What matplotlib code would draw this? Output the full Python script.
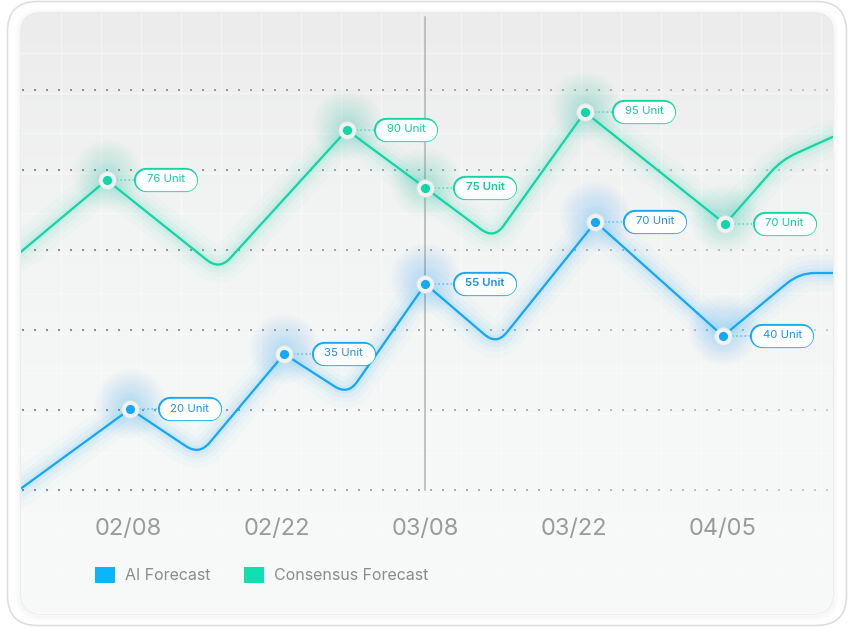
import numpy as np
import matplotlib
matplotlib.use('Agg')
import matplotlib.pyplot as plt
from matplotlib.patches import FancyBboxPatch, PathPatch, Patch
from matplotlib.path import Path
from matplotlib.transforms import Affine2D, ScaledTranslation
from matplotlib.lines import Line2D
from matplotlib.colors import LinearSegmentedColormap

plt.rcParams['font.family'] = ['Inter', 'DejaVu Sans']

# ---------------- data (x = days after 02/08/2025) ----------------
tick_days = [0, 14, 28, 42, 56]
tick_labels = ['02/08', '02/22', '03/08', '03/22', '04/05']

ai_days = [-10.0, 0.2, 6.7, 14.7, 20.7, 28.0, 34.7, 44.0, 56.0, 63.2, 66.4]
ai_vals = [0.5, 20.25, 8.75, 34.0, 23.75, 51.5, 36.25, 67.0, 38.5, 54.25, 54.25]
ai_labels = [None, '20 Unit', None, '35 Unit', None, '55 Unit', None, '70 Unit', '40 Unit', None, None]

cons_days = [-10.1, -2.0, 8.6, 20.6, 28.0, 34.45, 43.0, 56.2, 61.5, 66.3]
cons_vals = [59.5, 77.5, 55.0, 90.0, 75.5, 62.75, 94.5, 66.5, 82.5, 88.25]
cons_labels = [None, '76 Unit', None, '90 Unit', '75 Unit', None, '95 Unit', '70 Unit', None, None]

highlight_day = 28
grid_vals = [0, 20, 40, 60, 80, 100]
legend_names = ['AI Forecast', 'Consensus Forecast']

BLUE = '#16a8f3'
GREEN = '#12d6a6'
BLUE_TXT = '#1f8fe6'
GREEN_TXT = '#14c99b'

W, H = 854, 628
PT = 72 / 100  # points per pixel
fig = plt.figure(figsize=(W / 100, H / 100), dpi=100)
fig.patch.set_facecolor('white')

# ---------------- background card ----------------
bg = fig.add_axes([0, 0, 1, 1])
bg.set_xlim(0, W)
bg.set_ylim(H, 0)
bg.axis('off')

outer = FancyBboxPatch((7.5, 1.5), 839, 624, boxstyle='round,pad=0,rounding_size=30',
                       fc='#ffffff', ec='#dedede', lw=1.2, zorder=1)
bg.add_patch(outer)
for i, a in enumerate([0.05, 0.04, 0.03, 0.02]):
    e = 1 + i * 1.2
    bg.add_patch(FancyBboxPatch((21 - e, 13 - e + 1), 812 + 2 * e, 601 + 2 * e,
                                boxstyle='round,pad=0,rounding_size=%f' % (20 + e),
                                fc='none', ec='#888888', lw=1.2, alpha=a, zorder=2))
card = FancyBboxPatch((21, 13), 812, 601, boxstyle='round,pad=0,rounding_size=20',
                      fc='#f3f4f4', ec='#e2e2e2', lw=0.8, zorder=3)
bg.add_patch(card)
cmap = LinearSegmentedColormap.from_list('g', ['#ececec', '#f2f3f3', '#f6f7f7', '#f8f9f9'])
grad = np.linspace(0, 1, 256).reshape(-1, 1)
im = bg.imshow(grad, cmap=cmap, extent=(21, 833, 614, 13), aspect='auto', zorder=4,
               interpolation='bilinear')
im.set_clip_path(card)
for gx in range(61, 833, 40):
    l, = bg.plot([gx, gx], [13, 614], color='white', lw=1.0, alpha=0.4, zorder=5)
    l.set_clip_path(card)
for gy in range(53, 614, 40):
    l, = bg.plot([21, 833], [gy, gy], color='white', lw=1.0, alpha=0.4, zorder=5)
    l.set_clip_path(card)

# ---------------- main axes ----------------
px_per_day = 10.625
px_per_unit = 4.0
x0 = (21 - 128) / px_per_day
x1 = (833 - 128) / px_per_day
y0 = (490 - 614) / px_per_unit
y1 = (490 - 13) / px_per_unit
ax = fig.add_axes([21 / W, (H - 614) / H, 812 / W, 601 / H])
ax.set_xlim(x0, x1)
ax.set_ylim(y0, y1)
ax.axis('off')
ax.patch.set_alpha(0)

# dotted horizontal guides
step = 12 / px_per_day
xs_dots = np.arange(x0 + 2 / px_per_day, x1, step)
alphas = np.linspace(0.85, 0.35, len(xs_dots))
for gv in grid_vals:
    cols = [(0.47, 0.47, 0.47, a) for a in alphas]
    ax.scatter(xs_dots, np.full(len(xs_dots), gv), s=2.6, marker='s', c=cols,
               linewidths=0, zorder=2)

# highlighted vertical line
ax.plot([highlight_day, highlight_day], [0, y1 - 1], color='#b3b3b3', lw=1.1, zorder=2)


def rounded_path(xs, ys, labels):
    T = ax.transData
    P = T.transform(np.column_stack([xs, ys]))
    verts = [P[0]]
    codes = [Path.MOVETO]
    for i in range(1, len(P) - 1):
        r = 6.0 if labels[i] else 16.0
        a, v, b = P[i - 1], P[i], P[i + 1]
        d1 = np.linalg.norm(a - v)
        d2 = np.linalg.norm(b - v)
        t1 = min(r / d1, 0.45)
        t2 = min(r / d2, 0.45)
        p1 = v + (a - v) * t1
        p2 = v + (b - v) * t2
        verts += [p1, v, p2]
        codes += [Path.LINETO, Path.CURVE3, Path.CURVE3]
    verts.append(P[-1])
    codes.append(Path.LINETO)
    D = T.inverted().transform(np.array(verts))
    return Path(D, codes)


def draw_series(xs, ys, labels, color, txtcolor, conn_color):
    path = rounded_path(xs, ys, labels)
    for lw, a in [(26, 0.022), (18, 0.032), (12, 0.05), (6, 0.065)]:
        ax.add_patch(PathPatch(path, fill=False, ec=color, lw=lw, alpha=a,
                               capstyle='round', joinstyle='round', zorder=3))
    ax.add_patch(PathPatch(path, fill=False, ec=color, lw=1.65,
                           capstyle='round', joinstyle='round', zorder=4))
    for x, y, lab in zip(xs, ys, labels):
        if not lab:
            continue
        for dpx in np.linspace(14, 70, 14):
            ax.scatter([x], [y + 1.5], s=(dpx * PT) ** 2, color=color, alpha=0.016,
                       linewidths=0, zorder=3)
        ax.plot([x], [y], 'o', ms=12.5, mfc='#f1f2f2', mec='#e4e4e4', mew=0.6, zorder=7)
        ax.plot([x], [y], 'o', ms=6.6, mfc=color, mec='none', zorder=8)
        tr = Affine2D() + ScaledTranslation(x, y, ax.transData)
        off = 28
        ax.add_line(Line2D([9, off - 1], [0, 0], transform=tr, color=conn_color, lw=1.3,
                           ls=(0, (1, 1.3)), zorder=6, clip_on=False))
        # pill-shaped label box: coloured outline + white body
        xa, xb = off + 11.5, off + 63 - 11.5
        ax.add_line(Line2D([xa, xb], [0, 0], transform=tr, color=color, lw=24.2 * PT,
                           solid_capstyle='round', zorder=9, clip_on=False))
        ax.add_line(Line2D([xa, xb], [0, 0], transform=tr, color='white', lw=21.4 * PT,
                           solid_capstyle='round', zorder=9.5, clip_on=False))
        bold = abs(x - highlight_day) < 0.5
        ax.annotate(lab, xy=(x, y), xytext=(off + 31.5, 0.5), textcoords='offset pixels',
                    ha='center', va='center', fontsize=8.2, color=txtcolor,
                    fontweight='semibold' if bold else 'normal', zorder=10,
                    annotation_clip=False)


draw_series(cons_days, cons_vals, cons_labels, GREEN, GREEN_TXT, '#5fe3c0')
draw_series(ai_days, ai_vals, ai_labels, BLUE, BLUE_TXT, '#6cc8f6')

# x tick labels
tick_y = (490 - 528.5) / px_per_unit
for d, lab in zip(tick_days, tick_labels):
    ax.text(d, tick_y, lab, ha='center', va='center', fontsize=17, color='#9b9b9b', zorder=5)

# legend
handles = [Patch(facecolor='#0bb5f8', edgecolor='none'), Patch(facecolor='#0fdfb1', edgecolor='none')]
fig.legend(handles, legend_names, loc='center left', bbox_to_anchor=(95 / W, 1 - 575 / H),
           frameon=False, ncol=2, fontsize=11.5, handlelength=1.25, handleheight=1.25,
           handletextpad=0.62, columnspacing=2.1, borderpad=0, borderaxespad=0,
           labelcolor='#8c8c8c')

fig.savefig('out.png', dpi=100, facecolor='white')
